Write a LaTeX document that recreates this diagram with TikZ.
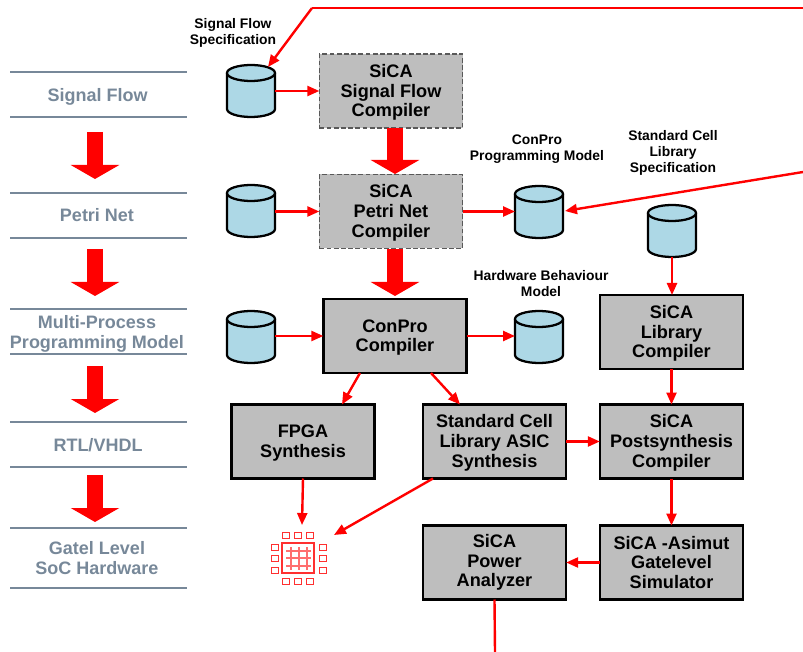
\documentclass[tikz,border=0pt]{standalone}
\usepackage{fontspec}
\setmainfont{Liberation Sans}
\usetikzlibrary{arrows.meta,calc}
\definecolor{slate}{HTML}{778899}
\definecolor{boxgrey}{HTML}{BEBEBE}
\definecolor{cyl}{HTML}{ADD8E6}
\definecolor{chipred}{HTML}{FF3030}
\newcommand{\topfix}{\rule{0pt}{12pt}}
\newcommand{\dbstore}[3]{%
  \node[storebox] (#1) at (#2,#3) {};
  \draw[storeline] ($(#1.center)+(-24,-18)$) -- ($(#1.center)+(-24,18)$)
     arc[start angle=180,end angle=360,x radius=18pt,y radius=6pt]
     -- ($(#1.center)+(24,-18)$);
  \draw[storeline] ($(#1.center)+(0,-18)$) ellipse[x radius=18pt,y radius=6pt];
}
\tikzset{
  base/.style={inner sep=0pt,outer sep=0pt,align=center,font=\bfseries},
  compbox/.style={base,draw=black,line width=1.8pt,fill=boxgrey,minimum width=107.5pt,minimum height=55.5pt,font=\fontsize{13.6}{14.8}\bfseries\selectfont},
  dashbox/.style={compbox,draw=black!65,line width=1.1pt,dash pattern=on 3.6pt off 1.8pt},
  storebox/.style={base,minimum width=36pt,minimum height=39pt},
  storeline/.style={draw=black,fill=cyl,line width=1.7pt},
  caption/.style={base,font=\fontsize{10.4}{12}\bfseries\selectfont},
  stage/.style={base,text=slate,font=\fontsize{13.5}{15}\bfseries\selectfont},
  rulegrey/.style={draw=slate,line width=1.4pt},
  conn/.style={draw=red,line width=1.8pt,-{Triangle[width=7.5pt,length=9pt]}},
  plainred/.style={draw=red,line width=1.8pt},
  big/.style={draw=red,line width=12pt,-{Triangle[width=36pt,length=10.5pt]}},
  pad/.style={draw=chipred,line width=0.7pt},
  gridline/.style={draw=chipred!70,line width=0.8pt}
}
\begin{document}
\begin{tikzpicture}[x=0.75pt,y=-0.75pt]
\useasboundingbox (0,0) rectangle (803,652);
% left column rules
\foreach \yy in {72,117,193,238,309,354,422,467,528,588}
  \draw[rulegrey] (10,\yy) -- (187,\yy);
\node[stage] (s1) at (97.5,97) {Signal Flow};
\node[stage] (s2) at (97,215.5) {Petri Net};
\node[stage] (s3) at (97,334) {Multi-Process\\Programming Model};
\node[stage] (s4) at (98,445.5) {RTL/VHDL};
\node[stage] (s5) at (97,558) {Gatel Level\\SoC Hardware};
% left big arrows
\coordinate (la1) at (95,132); \coordinate (lb1) at (95,179);
\coordinate (la2) at (95,249); \coordinate (lb2) at (95,296);
\coordinate (la3) at (95,366); \coordinate (lb3) at (95,413);
\coordinate (la4) at (95,475); \coordinate (lb4) at (95,522);
\draw[big] (la1) -- (lb1);
\draw[big] (la2) -- (lb2);
\draw[big] (la3) -- (lb3);
\draw[big] (la4) -- (lb4);
% boxes
\node[dashbox] (sf) at (391,91) {\topfix SiCA\\Signal Flow\\Compiler};
\node[dashbox] (pn) at (391,211.5) {\topfix SiCA\\Petri Net\\Compiler};
\node[compbox] (cp) at (395,336) {\topfix ConPro\\Compiler};
\node[compbox] (fpga) at (303,441.5) {\topfix FPGA\\Synthesis};
\node[compbox] (asic) at (494.5,441.5) {\topfix Standard Cell\\Library ASIC\\Synthesis};
\node[compbox] (lib) at (671.5,332) {\topfix SiCA\\Library\\Compiler};
\node[compbox] (post) at (671.5,441.5) {\topfix SiCA\\Postsynthesis\\Compiler};
\node[compbox] (asim) at (671.5,562.5) {SiCA -Asimut\\Gatelevel\\Simulator};
\node[compbox] (pow) at (494.5,562.5) {SiCA\\Power\\Analyzer};
% stores
\dbstore{c1}{251}{91}
\dbstore{c2}{251}{211}
\dbstore{c3}{251}{337}
\dbstore{c4}{539}{212}
\dbstore{c5}{539}{337}
\dbstore{c6}{672}{231}
% captions
\node[caption] (t1) at (233,33) {Signal Flow\\Specification};
\node[caption] (t2) at (537,149) {ConPro\\Programming Model};
\node[caption] (t3) at (673,153) {Standard Cell\\Library\\Specification};
\node[caption] (t4) at (541,284) {Hardware Behaviour\\Model};
% big compiler arrows
\coordinate (ma) at (395,249);
\draw[big] (395,128.5) coordinate (ms) -- (395,174) coordinate (me);
\draw[big] (ma) -- (395,296) coordinate (mb);
% connectors
\coordinate (far1) at (803,8);
\coordinate (bend1) at (312,8);
\coordinate (far2) at (803,172);
\coordinate (chipa) at (302,525);
\coordinate (chipb) at (334,535);
\coordinate (end) at (495,652);
\draw[plainred] (far1) -- (bend1);
\draw[conn] (bend1) -- (268,67) coordinate (c1in);
\draw[conn] (c1.east |- sf.west) -- (sf.west);
\draw[conn] (c2.east |- pn.west) -- (pn.west);
\draw[conn] (pn.east) -- (c4.west |- pn.east);
\draw[conn] (far2) -- (565,211);
\draw[conn] (c3.east |- cp.west) -- (cp.west);
\draw[conn] (cp.east) -- (c5.west |- cp.east);
\draw[conn] (c6.south) -- (lib.north -| c6.south);
\draw[conn] (lib.south) -- (post.north);
\draw[conn] (cp.south -| 360,0) -- (fpga.north -| 342,0);
\draw[conn] (cp.south -| 431,0) -- (asic.north -| 460,0);
\draw[conn] (asic.east) -- (post.west);
\draw[conn] (post.south) -- (asim.north);
\draw[conn] (asim.west) -- (pow.east);
\draw[plainred] (pow.south) -- (end);
\draw[conn] (fpga.south) -- (chipa);
\draw[conn] (asic.south -| 433,0) -- (chipb);
% chip icon
\draw[pad,line width=0.9pt] (282,543) rectangle (314,573);
\foreach \xx in {282,294,306}{
  \draw[pad] (\xx,532) rectangle ++(7.5,6.5);
  \draw[pad] (\xx,578) rectangle ++(7.5,6.5);
}
\foreach \yy in {544,555,567}{
  \draw[pad] (271,\yy) rectangle ++(7,6.5);
  \draw[pad] (319,\yy) rectangle ++(7,6.5);
}
\foreach \yy in {551,558,566} \draw[gridline] (286,\yy) -- (311,\yy);
\foreach \xx in {291,299,307} \draw[gridline] (\xx,547) -- (\xx,570);
\end{tikzpicture}
\end{document}
